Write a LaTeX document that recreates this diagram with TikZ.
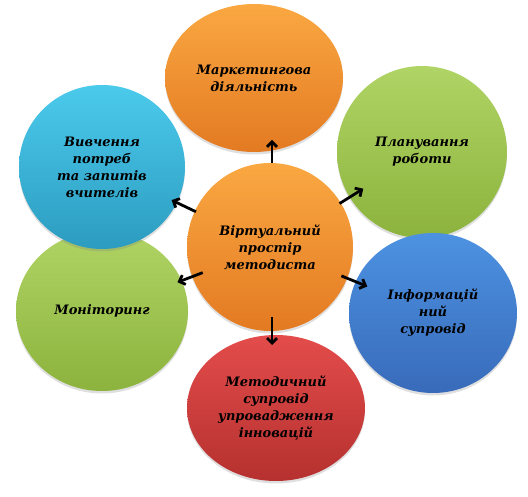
\documentclass[tikz,border=0pt]{standalone}
\usepackage{fontspec}
\setmainfont{DejaVu Serif}
\usetikzlibrary{shapes.geometric, arrows.meta, calc, shadows}

\definecolor{orangeTop}{HTML}{FAA842}
\definecolor{orangeBot}{HTML}{E37A22}
\definecolor{greenTop}{HTML}{B0D465}
\definecolor{greenBot}{HTML}{8CB33D}
\definecolor{blueTop}{HTML}{4D92E2}
\definecolor{blueBot}{HTML}{386BBA}
\definecolor{cyanTop}{HTML}{4BCAEC}
\definecolor{cyanBot}{HTML}{2C9CC0}
\definecolor{redTop}{HTML}{E34C4B}
\definecolor{redBot}{HTML}{B5312F}

\begin{document}
\begin{tikzpicture}[x=1pt, y=1pt,
    blob/.style={ellipse, inner sep=0pt, align=center,
        font=\bfseries\itshape\fontsize{13}{17}\selectfont,
        drop shadow={opacity=0.25, shadow xshift=0pt, shadow yshift=-2.5pt}},
    arr/.style={line width=2.8pt, -{Straight Barb[length=5pt, width=10pt]}}]
    \useasboundingbox (0,0) rectangle (528,496);
    % outer ring
    \node[blob, minimum width=178, minimum height=148, top color=orangeTop, bottom color=orangeBot] (mk) at (254,418) {Маркетингова\\діяльність};
    \node[blob, minimum width=170, minimum height=172, top color=greenTop, bottom color=greenBot] (pl) at (422,344) {Планування\\роботи};
    \node[blob, minimum width=168, minimum height=160, top color=blueTop, bottom color=blueBot] (inf) at (433,183) {Інформацій\\ний\\супровід};
    \node[blob, minimum width=178, minimum height=146, top color=redTop, bottom color=redBot] (mt) at (276,88) {Методичний\\супровід\\упровадження\\інновацій};
    \node[blob, minimum width=172, minimum height=160, top color=greenTop, bottom color=greenBot] (mon) at (102,185) {Моніторинг};
    \node[blob, minimum width=166, minimum height=164, top color=cyanTop, bottom color=cyanBot] (vv) at (102,329) {Вивчення\\потреб\\та запитів\\вчителів};
    % centre
    \node[blob, minimum width=166, minimum height=168, top color=orangeTop, bottom color=orangeBot] (c) at (270,249) {Віртуальний\\простір\\методиста};
    % arrows
    \draw[arr] ($(c)+(2,84)$) -- ($(c)+(2,107)$);
    \draw[arr] ($(c)!82pt!(pl)$) -- ($(c)!110pt!(pl)$);
    \draw[arr] ($(c)!77pt!(inf)$) -- ($(c)!105pt!(inf)$);
    \draw[arr] ($(c)+(2,-70)$) -- ($(c)+(2,-98)$);
    \draw[arr] ($(c)!72pt!(mon)$) -- ($(c)!99pt!(mon)$);
    \draw[arr] ($(c)!82pt!(vv)$) -- ($(c)!109pt!(vv)$);
\end{tikzpicture}
\end{document}
